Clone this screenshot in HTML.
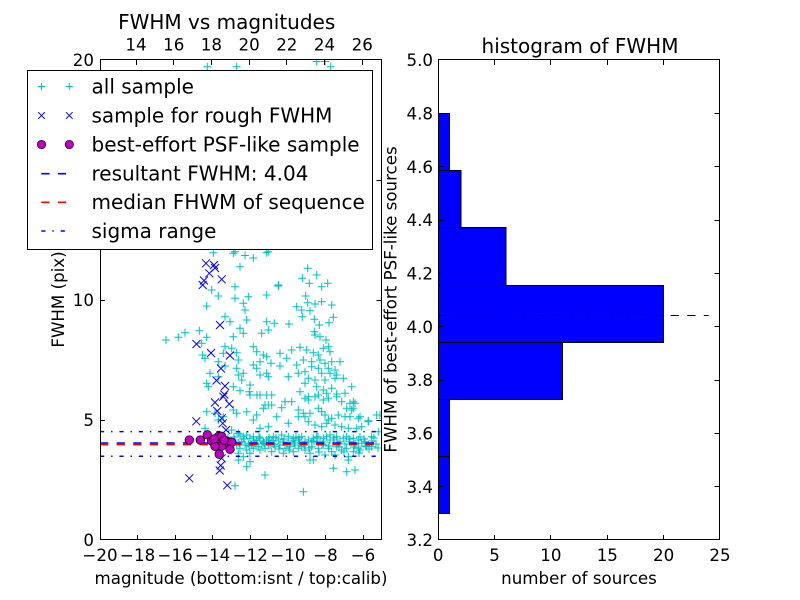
<!DOCTYPE html>
<html><head><meta charset="utf-8"><style>
html,body{margin:0;padding:0;background:#fff;}
svg{display:block;}
text{font-family:"DejaVu Sans","Liberation Sans",sans-serif;fill:#000;}
</style></head><body>
<svg width="800" height="600" viewBox="0 0 800 600" xmlns="http://www.w3.org/2000/svg">
<defs>
<marker id="mp" markerUnits="userSpaceOnUse" markerWidth="10" markerHeight="10" refX="5" refY="5" viewBox="0 0 10 10" overflow="visible"><path d="M1 5h8M5 1v8" stroke="#00bfbf" stroke-width="1" fill="none"/></marker>
<marker id="mx" markerUnits="userSpaceOnUse" markerWidth="10" markerHeight="10" refX="5" refY="5" viewBox="0 0 10 10" overflow="visible"><path d="M1 1L9 9M9 1L1 9" stroke="#0000ff" stroke-width="1" fill="none"/></marker>
<marker id="mo" markerUnits="userSpaceOnUse" markerWidth="10" markerHeight="10" refX="5" refY="5" viewBox="0 0 10 10" overflow="visible"><circle cx="5" cy="5" r="4.3" fill="#bf00bf" stroke="#000" stroke-width="0.7"/></marker>
<clipPath id="c1"><rect x="100" y="60" width="281.8" height="480"/></clipPath>
</defs>
<rect width="800" height="600" fill="#fff"/>

<!-- LEFT AXES -->
<g clip-path="url(#c1)">
<polyline fill="none" stroke="none" marker-start="url(#mp)" marker-mid="url(#mp)" marker-end="url(#mp)" points="
207.3,66.7 236.7,66.7 330.7,66.7 316.7,61.5 325,61.5
213.3,252.7 235,251.7 245,255.5 253.3,258 268.3,251.7 240,266.7 233.3,253.3 266.7,252.7
211.7,290 218.3,296 235,286.7 235,298.3 248.3,296.7 243.3,303.3 245,310 206.7,306 266.7,295 225,316.7 230,321.7 246.7,320 240,328.3 243.3,333.3 233.3,336.7 266.7,321.7 261.7,333.3 166,340 178.3,337.3 185,332.7 199.3,330.7 206.7,337.3 201.7,343.3 202.7,355 205,358.3 225,346.7 231.7,348.3 236.7,352.7 223.3,353.3 253.3,346.7 256.7,351.7 263.3,355 218.3,361.7 238.3,360 236.7,368.3 260,361.7 253.3,365 256.7,368.3 225,366 210,373.3 218.3,376.7 238.3,375 243.3,373.3 241.7,380 260,375 266.7,373.3 206.7,383.3 208.3,386.7 233.3,386.7 250,385 249.3,391.7 260,395 240,390.7 266.7,395
278.3,285
307.7,268.3 316.7,275 302.3,278.3 309.3,283.3 327.7,283.3 321.7,286.7 278.3,286 305.7,296 307.7,302.7 296.7,306.7 315,304 321.7,301.7 331.7,305 301.7,310 310,310.7 302.3,316.7 314.3,319.3 333.3,317.3 329,322.7 319.3,325 289,324 274.3,323.3 268.3,330 314.3,331.7 315,335 320,336.7 326,340 300,347.3 306.7,350 291.7,350 313.3,352.7 318.3,355 323.3,348.3 328.3,346.7 330,351.7 280,353.3 286.7,358.3 266.7,356.7 303.3,360 311.7,361.7 320,360 325,363.3 331.7,361.7 340,361.7 296.7,365 280,366 271,363.3 311.7,366.7 318.3,368.3 328.3,368.3 335,370 305,371.7 298.3,373.3 321.7,373.3 330,373.3 336.7,375 288.3,376.7 268.3,376.7 308.3,378.3 315,380 325,380 335,378.3 343.3,378.3 305,383.3 316.7,386.7 323.3,390 331.7,388.3 351.7,386.7 300,391.7 308.3,396.7 326.7,393.3 336.7,394 345,393.3 271.7,395 315,396.7
350,403.3 353.3,408.3 360,416.7 368.3,420.7 380,415
206.7,411.7 215,413.3 233.3,410 236.7,413.3 246.7,411.7 256.7,415 253.3,420 263.3,408.3 265,405 268.3,426.7 260,428.3 250,395 257,395 218.3,420 223.3,416.7 205,428.3 231.7,430 238.3,433.3
240,435 243.3,436.7 246.7,435 250,438.3 253.3,436.7 256.7,440 260,438.3 263.3,441.7 266.7,440 241.7,441.7 245,445 248.3,443.3 251.7,445 255,443.3 258.3,446.7 236.7,445 240,448.3 246.7,450 253.3,448.3 260,450 265,448.3 268.3,445 238.3,453.3 250,453.3 243.3,456.7
238.3,460 250,461.7 246.7,466.7 265,475 235,485.7
285,401.7 291.7,401.7 305,398.3 308.3,400 318.3,395 323.3,400 328.3,398.3 336.7,396.7 341.7,401.7 353.3,401.7 355,403.3 351.7,410 346.7,408.3 268.3,405 271.7,405 281.7,407.7 298.3,410 303.3,413.3 305,416.7 310,413.3 318.3,408.3 321.7,411.7 325,415 328.3,420 331.7,418.3 338.3,415 345,416.7 350,416.7 358.3,418.3 368.3,421.7 376.7,415 276.7,416.7 298.3,416.7 288.3,423.3 308.3,421.7 315,425 321.7,426.7 326.7,423.3 335,425 341.7,426.7 348.3,428.3 356.7,428.3 361.7,426.7 371.7,436.7 378.3,431.7
281.7,435 273.3,436.7 268.3,440 278.3,440 288.3,436.7 293.3,438.3 298.3,440 301.7,436.7 305,441.7 308.3,440 313.3,438.3 316.7,436.7 320,441.7 323.3,438.3 326.7,436.7 330,435 333.3,440 336.7,436.7 340,441.7 343.3,438.3 346.7,436.7 350,441.7 353.3,438.3 358.3,440 361.7,443.3 365,441.7 270,445 275,446.7 280,445 285,448.3 290,446.7 295,445 298.3,448.3 301.7,446.7 305,450 311.7,446.7 318.3,448.3 323.3,445 328.3,448.3 331.7,451.7 336.7,446.7 341.7,450 346.7,448.3 353.3,451.7 358.3,448.3 371.7,446.7 271.7,451.7 283.3,453.3 293.3,451.7 310,453.3 325,455 335,455 348.3,456.7 313.3,460 333.3,468.3 348.3,460 346.7,471.7 355,470 303.3,491.7 360,450 366.7,446.7 310,460
228,438 232,442 235,440 262,444 272,441 276,438 283,442 287,444 292,441 296,437 300,443 312,442 318,437 322,444 330,440 338,443 345,444 355,444 360,437 366,446 372,441 376,444
234,437 239,443 244,439 249,446 254,441 259,437 264,443 269,438 274,444 279,449 284,439 289,450 294,443 299,438 304,445 309,448 314,441 319,452 324,442 329,446 334,438 339,447 344,452 349,439 354,447 359,453 364,439 369,449 374,438 378,448"/>
<polyline fill="none" stroke="none" marker-start="url(#mx)" marker-mid="url(#mx)" marker-end="url(#mx)" points="206,263.3 214,265 215,268 209.3,273.3 204,280.5 202.7,285 221.7,279.3 220,325 196.5,344 211,353 230,355.5 221,368.5 216.5,380.5 225,386 224.3,394.5 229.3,404 215,402.5 223.3,396.7 217.3,411 221.7,418.3 196.3,421.3 222.7,423.3 226,430 221.7,458.3 220.7,465.5 219.7,470.5 189.3,478.3 227.3,485.3"/>
<line x1="100" y1="431.6" x2="382" y2="431.6" stroke="#0000ff" stroke-width="1.5" stroke-dasharray="4.2 6.9 1.4 6.9"/>
<line x1="100" y1="456.3" x2="382" y2="456.3" stroke="#0000ff" stroke-width="1.5" stroke-dasharray="4.2 6.9 1.4 6.9"/>
<line x1="100" y1="444.6" x2="382" y2="444.6" stroke="#ff0000" stroke-width="1.6" stroke-dasharray="8.3 8.3"/>
<line x1="100" y1="443" x2="382" y2="443" stroke="#0000ff" stroke-width="1.6" stroke-dasharray="8.3 8.3"/>
<polyline fill="none" stroke="none" marker-start="url(#mo)" marker-mid="url(#mo)" marker-end="url(#mo)" points="189.3,440 200.3,440 207.3,434.8 211.7,441 218.3,436.7 221.7,436.3 226.7,441 231.7,442.3 218.3,444.5 221.7,446 230,449.3 219.2,454.2 215,446.3 214,439 224,440"/>
</g>
<rect x="100.5" y="59.5" width="281" height="480" fill="none" stroke="#000" stroke-width="1"/>
<g stroke="#000" stroke-width="1">
<path d="M137.5 540v-5M175.5 540v-5M212.5 540v-5M250.5 540v-5M287.5 540v-5M325.5 540v-5M363.5 540v-5"/>
<path d="M136.5 60v5M173.5 60v5M211.5 60v5M249.5 60v5M286.5 60v5M324.5 60v5M362.5 60v5"/>
<path d="M100 420.5h5M100 300.5h5M100 180.5h5M381.5 420.5h-5M381.5 300.5h-5M381.5 180.5h-5"/>
</g>
<g font-size="16.67" text-anchor="middle">
<text x="100" y="561">−20</text><text x="137.6" y="561">−18</text><text x="175.1" y="561">−16</text><text x="212.7" y="561">−14</text><text x="250.3" y="561">−12</text><text x="287.9" y="561">−10</text><text x="325.4" y="561">−8</text><text x="363" y="561">−6</text>
<text x="136" y="50.3">14</text><text x="173.7" y="50.3">16</text><text x="211.4" y="50.3">18</text><text x="249.1" y="50.3">20</text><text x="286.8" y="50.3">22</text><text x="324.5" y="50.3">24</text><text x="362.2" y="50.3">26</text>
<text x="241" y="584">magnitude (bottom:isnt / top:calib)</text>
<text transform="translate(64,299.5) rotate(-90)">FWHM (pix)</text>
</g>
<g font-size="16.67" text-anchor="end">
<text x="94" y="66.1">20</text><text x="94" y="306.1">10</text><text x="94" y="426.1">5</text><text x="94" y="546.1">0</text>
</g>
<text x="226.7" y="29" font-size="20" text-anchor="middle">FWHM vs magnitudes</text>

<!-- RIGHT AXES -->
<g fill="#0000ff" stroke="#000" stroke-width="1">
<rect x="438.5" y="456.5" width="11" height="57"/>
<rect x="438.5" y="399.5" width="11" height="57"/>
<rect x="438.5" y="342.5" width="124" height="57"/>
<rect x="438.5" y="285.5" width="225" height="57"/>
<rect x="438.5" y="227.5" width="67.5" height="58"/>
<rect x="438.5" y="170.5" width="22.5" height="57"/>
<rect x="438.5" y="113.5" width="11" height="57"/>
</g>
<line x1="438.2" y1="315.5" x2="708.7" y2="315.5" stroke="#000" stroke-width="1" stroke-dasharray="8.3 8.3"/>
<rect x="438.5" y="59.5" width="281" height="480" fill="none" stroke="#000" stroke-width="1"/>
<g stroke="#000" stroke-width="1">
<path d="M494.5 540v-5M550.5 540v-5M607.5 540v-5M663.5 540v-5M494.5 60v5M550.5 60v5M607.5 60v5M663.5 60v5"/>
<path d="M438.5 486.5h5M438.5 433.5h5M438.5 380.5h5M438.5 326.5h5M438.5 273.5h5M438.5 220.5h5M438.5 166.5h5M438.5 113.5h5"/>
<path d="M719.5 486.5h-5M719.5 433.5h-5M719.5 380.5h-5M719.5 326.5h-5M719.5 273.5h-5M719.5 220.5h-5M719.5 166.5h-5M719.5 113.5h-5"/>
</g>
<g font-size="16.67" text-anchor="middle">
<text x="438.2" y="561">0</text><text x="494.6" y="561">5</text><text x="550.9" y="561">10</text><text x="607.3" y="561">15</text><text x="663.6" y="561">20</text><text x="720" y="561">25</text>
<text x="579" y="584">number of sources</text>
<text transform="translate(396.3,299.5) rotate(-90)">FWHM of best-effort PSF-like sources</text>
</g>
<g font-size="16.67" text-anchor="end">
<text x="433" y="546.1">3.2</text><text x="433" y="492.8">3.4</text><text x="433" y="439.4">3.6</text><text x="433" y="386.1">3.8</text><text x="433" y="332.8">4.0</text><text x="433" y="279.4">4.2</text><text x="433" y="226.1">4.4</text><text x="433" y="172.8">4.6</text><text x="433" y="119.4">4.8</text><text x="433" y="66.1">5.0</text>
</g>
<text x="580" y="53" font-size="20" text-anchor="middle">histogram of FWHM</text>

<!-- LEGEND -->
<rect x="27.5" y="70.5" width="345" height="179" fill="#fff" stroke="#000" stroke-width="1"/>
<path d="M38 86.5h7M41.5 83v7M65.8 86.5h7M69.3 83v7" stroke="#00bfbf" stroke-width="1" fill="none"/>
<path d="M38.2 112.2l6.6 6.6M44.8 112.2l-6.6 6.6M66 112.2l6.6 6.6M72.6 112.2l-6.6 6.6" stroke="#0000ff" stroke-width="1" fill="none"/>
<circle cx="41.5" cy="144.5" r="4.2" fill="#bf00bf" stroke="#000" stroke-width="0.7"/>
<circle cx="69.3" cy="144.5" r="4.2" fill="#bf00bf" stroke="#000" stroke-width="0.7"/>
<line x1="41.3" y1="173.7" x2="69.3" y2="173.7" stroke="#0000ff" stroke-width="1.6" stroke-dasharray="8.3 8.3"/>
<line x1="41.3" y1="202.3" x2="69.3" y2="202.3" stroke="#ff0000" stroke-width="1.6" stroke-dasharray="8.3 8.3"/>
<line x1="41.3" y1="231" x2="69.3" y2="231" stroke="#0000ff" stroke-width="1.5" stroke-dasharray="4.2 6.9 1.4 6.9"/>
<g font-size="20">
<text x="91.5" y="93.3">all sample</text>
<text x="91.5" y="122.3">sample for rough FWHM</text>
<text x="91.5" y="151.3">best-effort PSF-like sample</text>
<text x="91.5" y="180.5">resultant FWHM: 4.04</text>
<text x="91.5" y="209.1">median FHWM of sequence</text>
<text x="91.5" y="237.8">sigma range</text>
</g>
</svg>
</body></html>
